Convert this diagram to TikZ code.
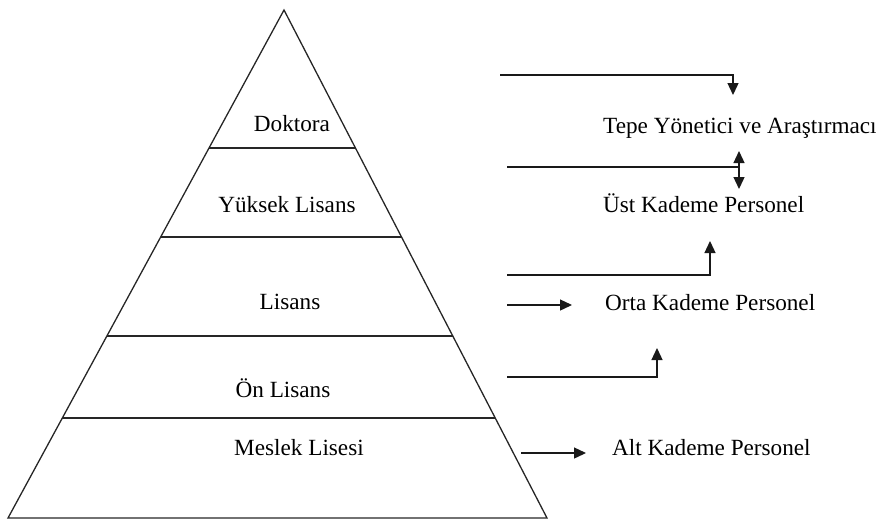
\documentclass[tikz,border=0pt]{standalone}
\usepackage{fontspec}
\setmainfont{Liberation Serif}
\usetikzlibrary{arrows.meta,calc}
\begin{document}
\begin{tikzpicture}[x=1pt,y=-1pt,
  shape line/.style={line width=1.3pt, draw=black!85},
  conn/.style={line width=1.3pt, draw=black!90},
  tip/.style={-{Triangle[length=12pt,width=11pt]}},
  dtip/.style={{Triangle[length=12pt,width=11pt]}-{Triangle[length=12pt,width=11pt]}},
  lvl/.style={anchor=base, inner sep=0pt, font=\fontsize{23.2pt}{27pt}\selectfont},
  role/.style={anchor=base west, inner sep=0pt, font=\fontsize{23.2pt}{27pt}\selectfont}]
\useasboundingbox (0,0) rectangle (882,523);
% pyramid
\coordinate (apex) at (284,10);
\coordinate (bl) at (8,518);
\coordinate (br) at (547,518);
\draw[shape line] (apex) -- (bl) -- (br) -- cycle;
\foreach \t in {0.2717,0.4469,0.6417,0.8031}{
  \draw[shape line] ($(apex)!\t!(bl)$) -- ($(apex)!\t!(br)$);
}
% level labels
\node[lvl] (dok) at (292,131) {Doktora};
\node[lvl] (yl) at (287,212) {Yüksek Lisans};
\node[lvl] (lis) at (290,309) {Lisans};
\node[lvl] (on) at (283,397) {Ön Lisans};
\node[lvl] (mes) at (299,455) {Meslek Lisesi};
% role labels
\node[role] (tepe) at (603,133) {Tepe Yönetici ve Araştırmacı};
\node[role] (ust) at (603,212) {Üst Kademe Personel};
\node[role] (orta) at (605,310) {Orta Kademe Personel};
\node[role] (alt) at (612,455) {Alt Kademe Personel};
% connectors
\coordinate (a1s) at (500,75);  \coordinate (a1e) at (733,95);
\coordinate (a2s) at (507,167); \coordinate (a2m) at (739,167);
\coordinate (a2u) at (739,151); \coordinate (a2d) at (739,189);
\coordinate (a3s) at (507,275); \coordinate (a3e) at (710,241);
\coordinate (a4s) at (507,305); \coordinate (a4e) at (572,305);
\coordinate (a5s) at (507,377); \coordinate (a5e) at (657,348);
\coordinate (a6s) at (521,453); \coordinate (a6e) at (586,453);
\draw[conn,tip] (a1s) -| (a1e);
\draw[conn] (a2s) -- (a2m);
\draw[conn,dtip] (a2u) -- (a2d);
\draw[conn,tip] (a3s) -| (a3e);
\draw[conn,tip] (a4s) -- (a4e);
\draw[conn,tip] (a5s) -| (a5e);
\draw[conn,tip] (a6s) -- (a6e);
\end{tikzpicture}
\end{document}
